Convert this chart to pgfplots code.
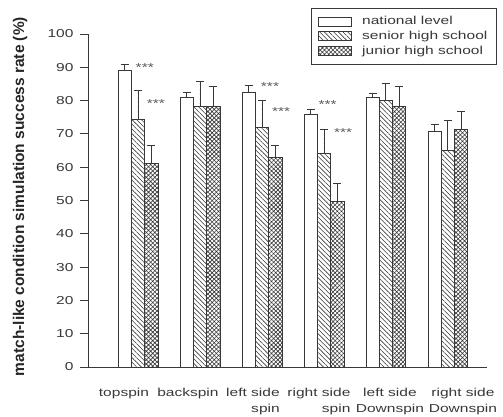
\documentclass[border=0pt]{standalone}
\usepackage{fontspec}
\usepackage{graphicx}
\setmainfont{Liberation Sans}
\newfontfamily\labelfont{Liberation Sans}
\usepackage{pgfplots}
\pgfplotsset{compat=1.18}
\usetikzlibrary{patterns.meta}
\definecolor{ink}{gray}{0.22}
\pgfplotstableread{
x   nat   natE  sen   senE  jun   junE
1   89.2  1.8   74.4  8.5   61.2  5.2
2   81.0  1.4   78.2  7.4   78.2  5.9
3   82.4  2.0   72.0  7.9   62.9  3.7
4   75.8  1.6   64.1  7.3   49.8  5.3
5   80.9  1.3   80.0  5.0   78.2  5.9
6   70.9  1.9   65.0  9.0   71.4  5.3
}\datatable
\pgfplotsset{legrect/.style={legend image code/.code={\draw[##1] (0bp,-4.5bp) rectangle (33bp,4.5bp);}}}
\newcommand{\sx}[1]{\scalebox{1.35}[1]{#1}}
\newcommand{\tl}[2][c]{\sx{\begin{tabular}{@{}#1@{}}#2\end{tabular}}}
\newcommand{\tf}{\fontsize{11.5bp}{16bp}\selectfont}
\begin{document}
\begin{tikzpicture}
\path[use as bounding box] (0,0) rectangle (503bp,417bp);
\begin{axis}[
  at={(88bp,50bp)}, anchor=south west, scale only axis,
  width=399bp, height=333bp,
  xmin=0.194, xmax=6.63, ymin=0, ymax=100,
  axis x line=bottom, axis y line=left,
  axis line style={-, draw=ink, line width=0.9bp},
  ybar=0pt, bar width=13.3bp,
  legrect,
  ytick={0,10,...,100}, tick align=outside, major tick length=8bp,
  y tick style={draw=ink, line width=0.9bp},
  yticklabel={\sx{\pgfmathprintnumber{\tick}}},
  xtick={0.774,1.806,2.855,3.919,5.065,6.242},
  x tick style={draw=none},
  xticklabels={\tl{topspin},\tl{backspin},\tl[r]{left side\\spin},\tl[r]{right side\\spin},\tl{left side\\Downspin},\tl{right side\\Downspin}},
  tick label style={font=\tf, text=ink},
  yticklabel style={xshift=-3bp},
  xticklabel style={yshift=-7bp},
  /pgf/number format/assume math mode=true,
  ylabel={match-like condition simulation success rate (\%)},
  ylabel style={at={(axis description cs:-0.170,0.512)}, anchor=center,
    font=\labelfont\bfseries\fontsize{15.5bp}{18bp}\selectfont, text=black!85},
  legend style={at={(1.025,1.078)}, anchor=north east, draw=ink, line width=1.2bp,
    font=\tf, text=ink, inner xsep=7bp, inner ysep=6bp,
    row sep=1bp, nodes={inner sep=2bp},
    /tikz/every odd column/.append style={column sep=8bp}},
  legend cell align=left,
  error bars/y dir=plus, error bars/y explicit,
  error bars/error bar style={draw=ink, line width=0.9bp},
  error bars/error mark options={draw=ink, line width=0.9bp, mark size=4bp, rotate=90},
]
\addplot[draw=ink, fill=white, line width=0.8bp, legrect]
  table[x=x, y=nat, y error=natE]{\datatable};
\addlegendentry{\sx{national level}}
\addplot[draw=ink, line width=0.8bp, pattern={Lines[angle=-45,distance=3.3bp,line width=0.6bp]}, pattern color=ink, legrect]
  table[x=x, y=sen, y error=senE]{\datatable};
\addlegendentry{\sx{senior high school}}
\addplot[draw=ink, line width=0.8bp, pattern={Hatch[angle=45,distance=3bp,line width=0.6bp]}, pattern color=ink, legrect]
  table[x=x, y=jun, y error=junE]{\datatable};
\addlegendentry{\sx{junior high school}}
\begin{scope}[every node/.style={font=\tf, text=black!65, inner sep=0pt}]
\node at (axis cs:1.11,90.0) {\sx{***}};
\node at (axis cs:1.29,79.2) {\sx{***}};
\node at (axis cs:3.13,84.2) {\sx{***}};
\node at (axis cs:3.31,76.7) {\sx{***}};
\node at (axis cs:4.06,78.7) {\sx{***}};
\node at (axis cs:4.31,70.4) {\sx{***}};
\end{scope}
\end{axis}
\end{tikzpicture}
\end{document}
